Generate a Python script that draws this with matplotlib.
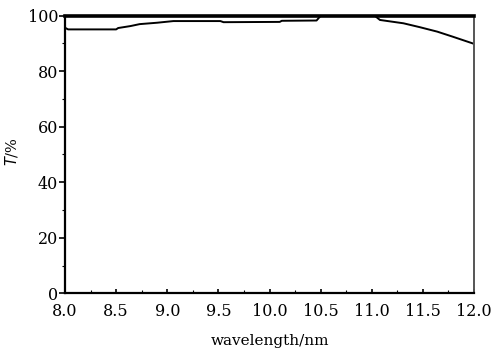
import matplotlib
matplotlib.use("Agg")
import matplotlib.pyplot as plt
from matplotlib.ticker import MultipleLocator

# Transmittance spectrum of the coating
wavelength = [8.00, 8.03, 8.50, 8.52, 8.64, 8.73, 8.90, 9.06, 9.52, 9.55,
              10.10, 10.12, 10.46, 10.50, 11.03, 11.08, 11.31, 11.47, 11.64,
              11.79, 11.96, 12.00]
transmittance = [95.6, 95.0, 95.0, 95.5, 96.2, 96.9, 97.4, 98.0, 98.0, 97.6,
                 97.7, 98.1, 98.2, 99.9, 99.9, 98.4, 97.2, 95.8, 94.2,
                 92.4, 90.3, 89.8]

x_ticks = [8.0, 8.5, 9.0, 9.5, 10.0, 10.5, 11.0, 11.5, 12.0]
x_ticklabels = ["8.0", "8.5", "9.0", "9.5", "10.0", "10.5", "11.0", "11.5", "12.0"]
y_ticks = [0, 20, 40, 60, 80, 100]

plt.rcParams["font.family"] = ["DejaVu Serif"]

fig = plt.figure(figsize=(4.91, 3.55), dpi=100)
ax = fig.add_axes([0.1324, 0.1738, 0.833, 0.7825])

ax.plot(wavelength, transmittance, color="black", lw=1.4)

ax.set_xlim(8.0, 12.0)
ax.set_ylim(0, 100)
ax.set_xticks(x_ticks)
ax.set_xticklabels(x_ticklabels)
ax.set_yticks(y_ticks)
ax.xaxis.set_minor_locator(MultipleLocator(0.25))
ax.yaxis.set_minor_locator(MultipleLocator(10))

ax.tick_params(axis="x", which="major", direction="in", length=3, width=1.2,
               labelsize=11.5, pad=7)
ax.tick_params(axis="x", which="minor", direction="in", length=2, width=0.8)
ax.tick_params(axis="y", which="major", direction="out", length=4, width=1.2,
               labelsize=11.5, pad=1)
ax.tick_params(axis="y", which="minor", direction="out", length=2.5, width=0.8)

ax.spines["top"].set_linewidth(2.6)
ax.spines["left"].set_linewidth(1.6)
ax.spines["bottom"].set_linewidth(1.6)
ax.spines["right"].set_linewidth(1.4)
ax.spines["right"].set_color("#555555")

ax.set_xlabel("wavelength/nm", fontsize=11)
ax.xaxis.set_label_coords(0.5, -0.145)
ax.set_ylabel(r"$T$/%", fontsize=10.5)
ax.yaxis.set_label_coords(-0.11, 0.51)

fig.savefig("out.png", dpi=100)
